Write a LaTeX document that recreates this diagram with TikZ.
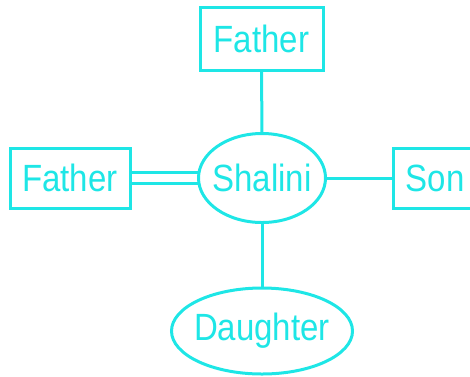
\documentclass[tikz,border=0pt]{standalone}
\usepackage{fontspec}
\setmainfont{Liberation Sans}
\usetikzlibrary{shapes.geometric}
\definecolor{cy}{RGB}{30,230,230}
\newcommand{\lbl}[1]{\scalebox{1}[1.15]{#1}}
\begin{document}
\begin{tikzpicture}[x=1pt,y=-1pt,
  every node/.style={inner sep=0pt, outer sep=0pt, text=cy, font=\fontsize{33}{36}\selectfont},
  boxnode/.style={draw=cy, line width=3pt, rectangle},
  ellnode/.style={draw=cy, line width=3pt, ellipse},
  link/.style={draw=cy, line width=3pt}]
\useasboundingbox (0,0) rectangle (470,376);
\clip (0,0) rectangle (470,376);
\node[boxnode, minimum width=123pt, minimum height=63pt] (tf) at (261.5,38.5) {\lbl{Father}};
\node[boxnode, minimum width=120pt, minimum height=60pt] (lf) at (70,178) {\lbl{Father}};
\node[boxnode, minimum width=84pt, minimum height=60pt] (so) at (435,178) {\lbl{Son}};
\node[ellnode, minimum width=127pt, minimum height=89pt] (sh) at (262,178) {};
\node (sht) at (sh.center) {\lbl{Shalini}};
\node[ellnode, minimum width=181pt, minimum height=86pt] (da) at (262,331) {};
\node (dat) at (da.center) {\lbl{Daughter}};
\draw[link] (tf.south) -- (sh.north);
\draw[link] (sh.east) -- (so.west);
\draw[link] (sh.south) -- (da.north);
\draw[link] ([yshift=-5.5pt]lf.east) -- ([yshift=-5.5pt]lf.east -| sh.west);
\draw[link] ([yshift=5.5pt]lf.east) -- ([yshift=5.5pt]lf.east -| sh.west);
\end{tikzpicture}
\end{document}
